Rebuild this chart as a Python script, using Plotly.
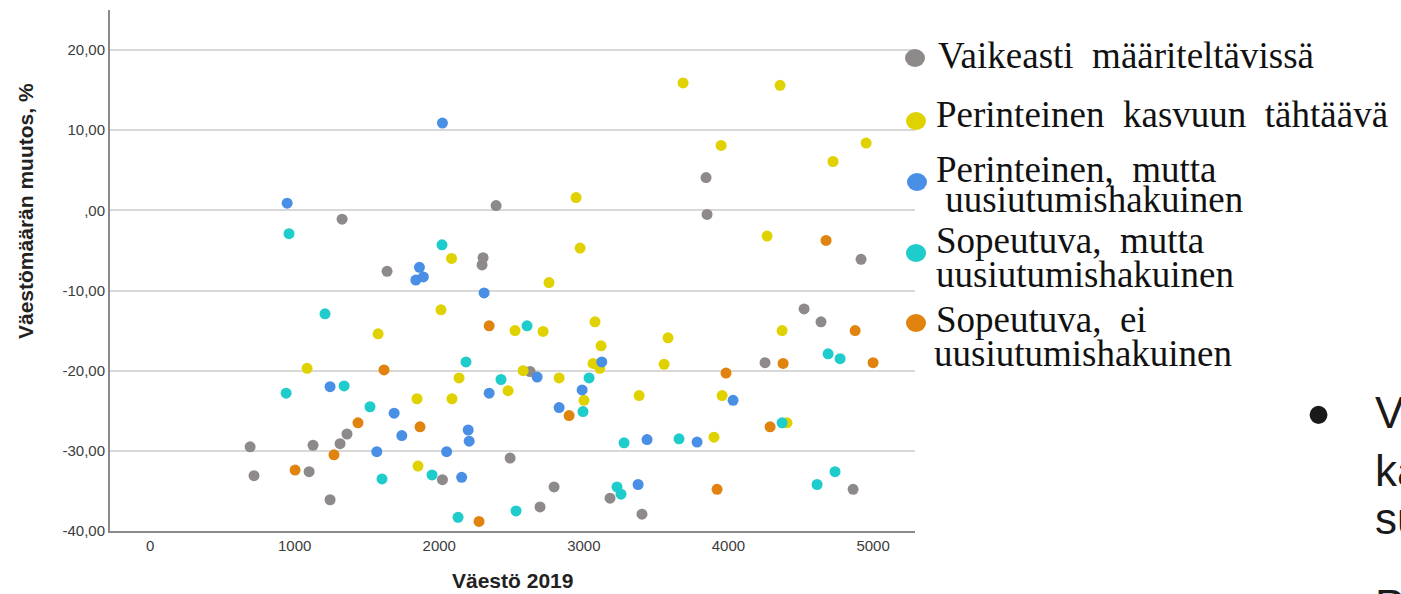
import plotly.graph_objects as go

# ---------------- data ----------------
series_names = [
    "Vaikeasti määriteltävissä",
    "Perinteinen kasvuun tähtäävä",
    "Perinteinen, mutta uusiutumishakuinen",
    "Sopeutuva, mutta uusiutumishakuinen",
    "Sopeutuva, ei uusiutumishakuinen",
]
series_colors = ["#8e8a8a", "#e0d200", "#4a8fe6", "#1fcccc", "#e0830f"]

gray_x = [692, 719, 1100, 1127, 1245, 1314, 1328, 1362, 1639, 2022, 2296, 2303, 2393,
          2490, 2628, 2697, 2794, 3181, 3402, 3845, 3852, 4253, 4523, 4640, 4862, 4917]
gray_y = [-29.5, -33.1, -32.6, -29.3, -36.1, -29.1, -1.1, -27.9, -7.6, -33.6, -6.8, -5.9, 0.6,
          -30.9, -20.1, -37.0, -34.5, -35.9, -37.9, 4.1, -0.5, -19.0, -12.3, -13.9, -34.8, -6.1]

yellow_x = [1086, 1577, 1853, 1846, 2012, 2088, 2085, 2137, 2476, 2524, 2580, 2718, 2759,
            2829, 2946, 2974, 3001, 3064, 3110, 3077, 3119, 3382, 3555, 3582, 3686, 3900,
            3949, 3956, 4267, 4357, 4371, 4405, 4723, 4952]
yellow_y = [-19.7, -15.4, -31.9, -23.5, -12.4, -23.5, -6.0, -20.9, -22.5, -15.0, -20.0, -15.1, -9.0,
            -20.9, 1.6, -4.7, -23.7, -19.1, -19.7, -13.9, -16.9, -23.1, -19.2, -15.9, 15.9, -28.3,
            8.1, -23.1, -3.2, 15.6, -15.0, -26.5, 6.1, 8.4]

blue_x = [948, 1245, 1568, 1688, 1741, 1838, 1863, 1890, 2022, 2051, 2155, 2200, 2207,
          2310, 2345, 2677, 2829, 2988, 3124, 3375, 3437, 3783, 4032]
blue_y = [0.9, -22.0, -30.1, -25.3, -28.1, -8.7, -7.1, -8.3, 10.9, -30.1, -33.3, -27.4, -28.8,
          -10.3, -22.8, -20.8, -24.6, -22.4, -18.9, -34.2, -28.6, -28.9, -23.7]

cyan_x = [941, 961, 1210, 1342, 1521, 1604, 1950, 2019, 2130, 2185, 2427, 2531, 2607,
          2994, 3036, 3229, 3257, 3278, 3658, 4371, 4613, 4689, 4737, 4772]
cyan_y = [-22.8, -2.9, -12.9, -21.9, -24.5, -33.5, -33.0, -4.3, -38.3, -18.9, -21.1, -37.5, -14.4,
          -25.1, -20.9, -34.5, -35.4, -29.0, -28.5, -26.5, -34.2, -17.9, -32.6, -18.5]

orange_x = [1003, 1272, 1438, 1618, 1867, 2275, 2345, 2898, 3921, 3983, 4288, 4378, 4675, 4876, 5000]
orange_y = [-32.4, -30.5, -26.5, -19.9, -27.0, -38.8, -14.4, -25.6, -34.8, -20.3, -27.0, -19.1,
            -3.75, -15.0, -19.0]

x_tick_vals = [0, 1000, 2000, 3000, 4000, 5000]
x_tick_text = ["0", "1000", "2000", "3000", "4000", "5000"]
y_tick_vals = [-40, -30, -20, -10, 0, 10, 20]
y_tick_text = ["-40,00", "-30,00", "-20,00", "-10,00", ",00", "10,00", "20,00"]

legend_lines = [
    ["Vaikeasti\u00a0 määriteltävissä"],
    ["Perinteinen\u00a0 kasvuun\u00a0 tähtäävä"],
    ["Perinteinen,\u00a0 mutta", "\u00a0uusiutumishakuinen"],
    ["Sopeutuva,\u00a0 mutta", "uusiutumishakuinen"],
    ["Sopeutuva,\u00a0 ei", "uusiutumishakuinen"],
]
slide_texts = ["V", "ka", "su", "P"]

x_title = "Väestö 2019"
y_title = "Väestömäärän muutos, %"

# ---------------- figure ----------------
W, H = 1401, 594
L, R, T, B = 110, 915, 10, 531  # plot area in pixels


def px2x(px):
    return (px - L) / (R - L)


def px2y(py):
    return (B - py) / (B - T)


all_x = [gray_x, yellow_x, blue_x, cyan_x, orange_x]
all_y = [gray_y, yellow_y, blue_y, cyan_y, orange_y]

fig = go.Figure()
for name, col, xs, ys in zip(series_names, series_colors, all_x, all_y):
    fig.add_trace(go.Scatter(
        x=xs, y=ys, mode="markers", name=name,
        marker=dict(size=11, color=col, line=dict(width=0)),
        showlegend=False,
    ))

axis_font = dict(family="Liberation Sans, Arial, sans-serif", size=15, color="#3c3c3c")

fig.update_layout(
    width=W, height=H,
    margin=dict(l=L, r=W - R, t=T, b=H - B, pad=0),
    paper_bgcolor="white", plot_bgcolor="white",
    xaxis=dict(range=[-277, 5290], tickvals=x_tick_vals, ticktext=x_tick_text,
               showgrid=False, zeroline=False, showline=True, linecolor="#8a8a8a",
               linewidth=2, ticks="", tickfont=axis_font),
    yaxis=dict(range=[-40, 25], tickvals=y_tick_vals, ticktext=y_tick_text,
               showgrid=True, gridcolor="#d8d8d8", gridwidth=2, zeroline=False,
               showline=True, linecolor="#8a8a8a", linewidth=2, ticks="",
               tickfont=axis_font),
)

annotations = []
title_font = dict(family="Liberation Sans, Arial, sans-serif", size=21, color="#222222", weight="bold")
annotations.append(dict(text=x_title, x=px2x(512), y=px2y(580), xref="paper", yref="paper",
                        xanchor="center", yanchor="middle", showarrow=False, font=title_font))
annotations.append(dict(text=y_title, x=px2x(25), y=px2y(211), xref="paper", yref="paper",
                        xanchor="center", yanchor="middle", textangle=-90, showarrow=False,
                        font=title_font))

# custom legend
serif = dict(family="Liberation Serif, Times New Roman, serif", size=37, color="#111111")
line_baselines = [[68], [127], [182, 212], [253, 287], [332, 366]]
line_lefts = [[936], [934], [934, 934], [934, 934], [934, 932]]
marker_centers = [(915, 58), (916, 121), (917, 182), (916, 253), (916, 323)]
shapes = []
for lines, bases, lefts, col, (mx, my) in zip(legend_lines, line_baselines, line_lefts,
                                               series_colors, marker_centers):
    for txt, bl, lx in zip(lines, bases, lefts):
        annotations.append(dict(text=txt, x=px2x(lx), y=px2y(bl - 12.5), xref="paper", yref="paper",
                                xanchor="left", yanchor="middle", showarrow=False, font=serif))
    shapes.append(dict(type="circle", xref="paper", yref="paper", xsizemode="pixel",
                       ysizemode="pixel", xanchor=px2x(mx), yanchor=px2y(my),
                       x0=-10, x1=10, y0=-9, y1=9, fillcolor=col, line=dict(width=0)))

# slide text on the right
sans = dict(family="Liberation Sans, Arial, sans-serif", size=44, color="#1a1a1a")
bullet_font = dict(family="Liberation Sans, Arial, sans-serif", size=66, color="#1a1a1a")
annotations.append(dict(text="•", x=px2x(1318), y=px2y(414), xref="paper", yref="paper",
                        xanchor="center", yanchor="middle", showarrow=False, font=bullet_font))
for txt, bl in zip(slide_texts, [427, 485, 533, 620]):
    annotations.append(dict(text=txt, x=px2x(1373), y=px2y(bl - 15), xref="paper", yref="paper",
                            xanchor="left", yanchor="middle", showarrow=False, font=sans))

fig.update_layout(annotations=annotations, shapes=shapes)

fig.write_html("out.html", config={"displayModeBar": False},
               post_script="document.body.style.margin='0';")
